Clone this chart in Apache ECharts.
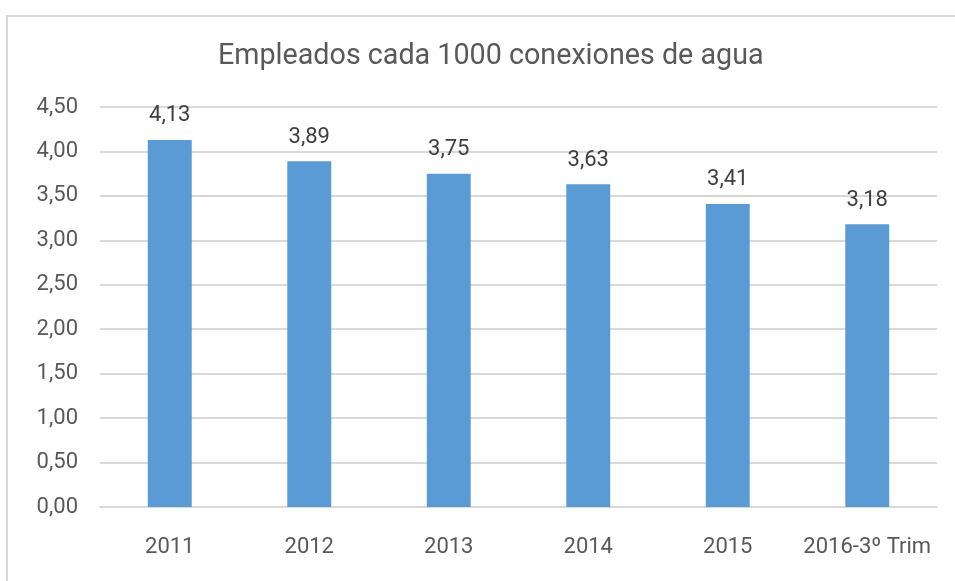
<!DOCTYPE html>
<html lang="es">
  <head>
    <meta charset="UTF-8" />
    <title>Empleados cada 1000 conexiones de agua</title>
    <style>
      * {
        margin: 0;
        padding: 0;
      }
      html,
      body {
        background: #fff;
        overflow: hidden;
        width: 955px;
        height: 581px;
      }
      #frame {
        position: absolute;
        left: 6px;
        top: 15px;
        width: 949px;
        height: 566px;
        border-left: 2px solid #d9d9d9;
        border-top: 2px solid #d9d9d9;
      }
      #main {
        position: absolute;
        left: 0;
        top: 0;
        width: 955px;
        height: 581px;
      }
    </style>
  </head>
  <body>
    <div id="frame"></div>
    <div id="main"></div>
    <script src="https://cdn.jsdelivr.net/npm/echarts@6/dist/echarts.min.js"></script>
    <script>
      // categories and values
      var years = ["2011", "2012", "2013", "2014", "2015", "2016-3º Trim"];
      var empleados = [4.13, 3.89, 3.75, 3.63, 3.41, 3.18];

      // comma as decimal separator
      function fmt(v) {
        return Number(v).toFixed(2).replace(".", ",");
      }

      var myChart = echarts.init(document.getElementById("main"));

      var option = {
        animation: false,
        textStyle: { fontFamily: "Roboto" },
        title: {
          text: "Empleados cada 1000 conexiones de agua",
          left: 213,
          top: 37,
          textStyle: {
            fontFamily: "Roboto",
            fontSize: 28.7,
            fontWeight: "normal",
            color: "#595959",
          },
        },
        grid: {
          left: 100,
          right: 18,
          top: 107,
          bottom: 74,
          containLabel: false,
        },
        xAxis: {
          type: "category",
          data: years,
          axisLine: { lineStyle: { color: "#d9d9d9", width: 2 } },
          axisTick: { show: false },
          axisLabel: {
            interval: 0,
            color: "#595959",
            fontSize: 22,
            margin: 29,
          },
        },
        yAxis: {
          type: "value",
          min: 0,
          max: 4.5,
          interval: 0.5,
          axisLine: { show: false },
          axisTick: { show: false },
          splitLine: { lineStyle: { color: "#d9d9d9", width: 2 } },
          axisLabel: {
            color: "#595959",
            fontSize: 22,
            margin: 22,
            formatter: fmt,
          },
        },
        series: [
          {
            type: "bar",
            data: empleados,
            barWidth: "31.5%",
            itemStyle: { color: "#5B9BD5" },
            label: {
              show: true,
              position: "top",
              distance: 13,
              color: "#404040",
              fontSize: 22,
              formatter: function (p) {
                return fmt(p.value);
              },
            },
          },
        ],
      };

      myChart.setOption(option);
    </script>
  </body>
</html>
